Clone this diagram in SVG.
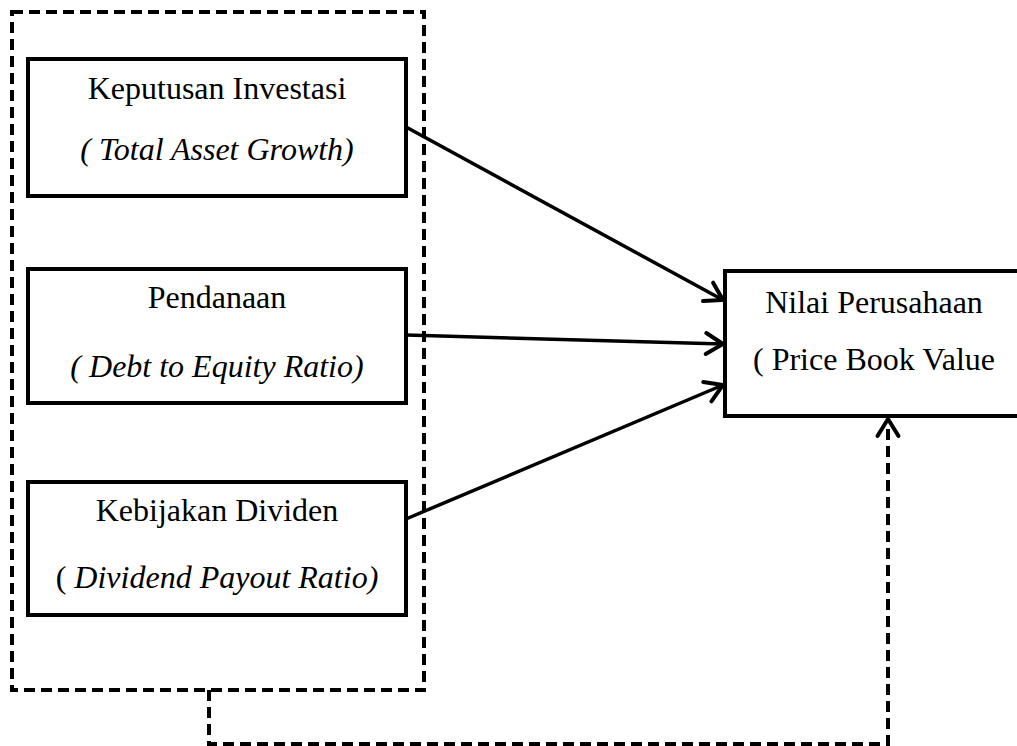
<svg xmlns="http://www.w3.org/2000/svg" width="1017" height="746" viewBox="0 0 1017 746">
<defs>
<style>
.box{fill:#fff;stroke:#000;stroke-width:4}
.dash{fill:none;stroke:#000;stroke-width:4;stroke-dasharray:11 6}
.t{font-family:"Liberation Serif","Times New Roman",serif;font-size:32px;fill:#000;text-anchor:middle}
.i{font-style:italic}
.edge{fill:none;stroke:#000;stroke-width:3.5}
</style>
<marker id="arr" markerUnits="userSpaceOnUse" viewBox="-22 -14 26 28" refX="0" refY="0" markerWidth="26" markerHeight="28" orient="auto" overflow="visible">
<path d="M-17,-10.5 L0,0 L-17,10.5" fill="none" stroke="#000" stroke-width="4" stroke-linecap="round" stroke-linejoin="miter"/>
</marker>
</defs>
<rect fill="#fff" x="0" y="0" width="1017" height="746"/>
<g id="group-frame">
<rect class="dash" x="12" y="12" width="412" height="678"/>
</g>
<g id="node-investasi">
<rect class="box" x="28" y="59" width="378" height="137"/>
<text class="t" x="217" y="99">Keputusan Investasi</text>
<text class="t i" x="217" y="160">( Total Asset Growth)</text>
</g>
<g id="node-pendanaan">
<rect class="box" x="28" y="269" width="378" height="134"/>
<text class="t" x="217" y="308">Pendanaan</text>
<text class="t i" x="217" y="377">( Debt to Equity Ratio)</text>
</g>
<g id="node-dividen">
<rect class="box" x="28" y="482" width="378" height="133"/>
<text class="t" x="217" y="521">Kebijakan Dividen</text>
<text class="t" x="217" y="588">( <tspan class="i">Dividend Payout Ratio)</tspan></text>
</g>
<g id="node-nilai">
<rect class="box" x="725" y="271" width="400" height="145"/>
<text class="t" x="874" y="313">Nilai Perusahaan</text>
<text class="t" x="874" y="370">( Price Book Value</text>
</g>
<g id="connectors">
<line class="edge" x1="406" y1="127" x2="723" y2="300" marker-end="url(#arr)"/>
<line class="edge" x1="406" y1="335" x2="723" y2="344" marker-end="url(#arr)"/>
<line class="edge" x1="406" y1="519" x2="723" y2="385" marker-end="url(#arr)"/>
<path class="dash" d="M209,690 V744 H888 V419" marker-end="url(#arr)"/>
</g>
</svg>
